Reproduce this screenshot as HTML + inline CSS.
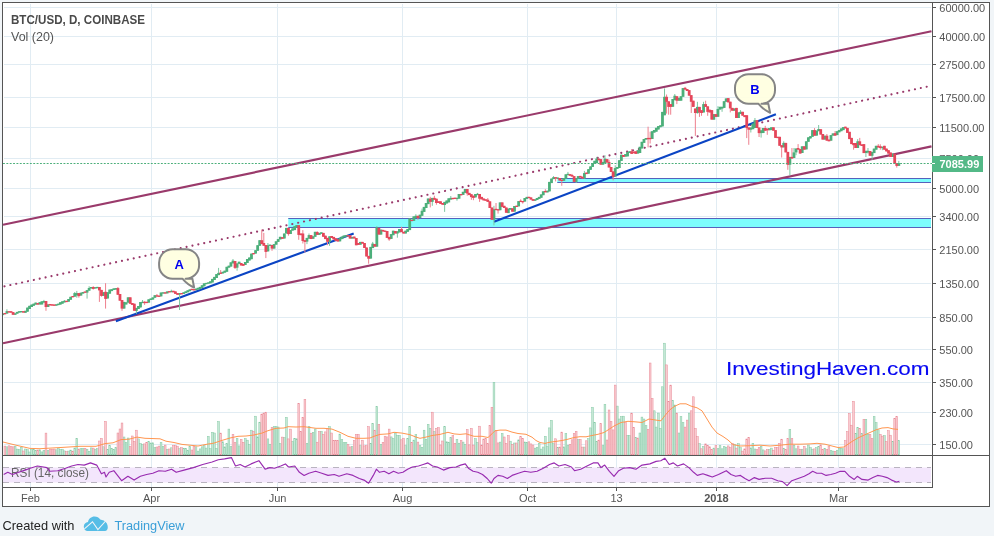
<!DOCTYPE html><html><head><meta charset="utf-8"><title>BTC/USD chart</title><style>html,body{margin:0;padding:0;background:#f1f5f8;width:994px;height:536px;overflow:hidden;font-family:"Liberation Sans",sans-serif}</style></head><body><svg width="994" height="536" viewBox="0 0 994 536" style="position:absolute;left:0;top:0;display:block;will-change:transform" font-family="Liberation Sans, sans-serif"><rect x="0" y="0" width="994" height="536" fill="#f1f5f8"/><rect x="2.5" y="2.5" width="987" height="504" fill="#ffffff" stroke="#555555" stroke-width="1"/><path d="M4 7.5H931M4 36.5H931M4 64.5H931M4 97.5H931M4 127.5H931M4 158.5H931M4 188.5H931M4 216.5H931M4 249.5H931M4 283.5H931M4 317.5H931M4 349.5H931M4 382.5H931M4 412.5H931M4 444.5H931M30.5 4V455M30.5 456V487M151.5 4V455M151.5 456V487M277.5 4V455M277.5 456V487M402.5 4V455M402.5 456V487M527.5 4V455M527.5 456V487M616.5 4V455M616.5 456V487M716.5 4V455M716.5 456V487M838.5 4V455M838.5 456V487" stroke="#e1ecf3" stroke-width="1" fill="none" shape-rendering="crispEdges"/><g fill="#c4e7d5" stroke="#86caa6" stroke-width="0.5"><rect x="6.05" y="446.8" width="1.76" height="8.2"/><rect x="14.27" y="446.4" width="1.76" height="8.6"/><rect x="16.33" y="449.1" width="1.76" height="5.9"/><rect x="18.38" y="449.7" width="1.76" height="5.3"/><rect x="20.44" y="447.2" width="1.76" height="7.8"/><rect x="24.55" y="449.0" width="1.76" height="6.0"/><rect x="26.60" y="449.7" width="1.76" height="5.3"/><rect x="28.66" y="452.0" width="1.76" height="3.0"/><rect x="30.71" y="449.5" width="1.76" height="5.5"/><rect x="32.77" y="449.4" width="1.76" height="5.6"/><rect x="34.82" y="450.3" width="1.76" height="4.7"/><rect x="38.93" y="449.8" width="1.76" height="5.2"/><rect x="40.99" y="451.9" width="1.76" height="3.1"/><rect x="43.04" y="450.5" width="1.76" height="4.5"/><rect x="47.15" y="450.5" width="1.76" height="4.5"/><rect x="55.37" y="449.8" width="1.76" height="5.2"/><rect x="57.43" y="448.6" width="1.76" height="6.4"/><rect x="59.48" y="449.3" width="1.76" height="5.7"/><rect x="61.54" y="449.2" width="1.76" height="5.8"/><rect x="63.59" y="450.9" width="1.76" height="4.1"/><rect x="67.70" y="451.1" width="1.76" height="3.9"/><rect x="69.76" y="450.1" width="1.76" height="4.9"/><rect x="73.87" y="448.0" width="1.76" height="7.0"/><rect x="75.92" y="438.3" width="1.76" height="16.7"/><rect x="80.03" y="448.6" width="1.76" height="6.4"/><rect x="82.09" y="448.6" width="1.76" height="6.4"/><rect x="86.20" y="449.2" width="1.76" height="5.8"/><rect x="88.25" y="451.3" width="1.76" height="3.7"/><rect x="90.31" y="447.9" width="1.76" height="7.1"/><rect x="94.42" y="449.2" width="1.76" height="5.8"/><rect x="96.47" y="448.7" width="1.76" height="6.3"/><rect x="102.64" y="446.8" width="1.76" height="8.2"/><rect x="106.75" y="449.7" width="1.76" height="5.3"/><rect x="108.80" y="445.6" width="1.76" height="9.4"/><rect x="110.86" y="448.4" width="1.76" height="6.6"/><rect x="112.91" y="449.3" width="1.76" height="5.7"/><rect x="114.97" y="447.6" width="1.76" height="7.4"/><rect x="123.19" y="437.0" width="1.76" height="18.0"/><rect x="125.24" y="442.7" width="1.76" height="12.3"/><rect x="127.30" y="438.0" width="1.76" height="17.0"/><rect x="137.57" y="438.9" width="1.76" height="16.1"/><rect x="139.63" y="443.4" width="1.76" height="11.6"/><rect x="141.68" y="444.6" width="1.76" height="10.4"/><rect x="147.85" y="441.7" width="1.76" height="13.3"/><rect x="149.90" y="443.0" width="1.76" height="12.0"/><rect x="151.96" y="442.8" width="1.76" height="12.2"/><rect x="154.01" y="447.5" width="1.76" height="7.5"/><rect x="160.18" y="442.5" width="1.76" height="12.5"/><rect x="162.23" y="446.4" width="1.76" height="8.6"/><rect x="166.34" y="449.2" width="1.76" height="5.8"/><rect x="170.45" y="447.8" width="1.76" height="7.2"/><rect x="178.67" y="448.7" width="1.76" height="6.3"/><rect x="182.78" y="448.2" width="1.76" height="6.8"/><rect x="184.84" y="448.3" width="1.76" height="6.7"/><rect x="186.89" y="450.2" width="1.76" height="4.8"/><rect x="188.95" y="446.5" width="1.76" height="8.5"/><rect x="195.11" y="446.8" width="1.76" height="8.2"/><rect x="197.17" y="451.1" width="1.76" height="3.9"/><rect x="199.22" y="448.9" width="1.76" height="6.1"/><rect x="201.28" y="446.8" width="1.76" height="8.2"/><rect x="203.33" y="445.7" width="1.76" height="9.3"/><rect x="205.39" y="448.1" width="1.76" height="6.9"/><rect x="207.44" y="436.3" width="1.76" height="18.7"/><rect x="209.50" y="448.7" width="1.76" height="6.3"/><rect x="211.55" y="432.3" width="1.76" height="22.7"/><rect x="213.61" y="433.0" width="1.76" height="22.0"/><rect x="215.66" y="448.3" width="1.76" height="6.7"/><rect x="217.72" y="421.5" width="1.76" height="33.5"/><rect x="221.83" y="441.8" width="1.76" height="13.2"/><rect x="223.88" y="446.9" width="1.76" height="8.1"/><rect x="225.94" y="443.6" width="1.76" height="11.4"/><rect x="227.99" y="429.1" width="1.76" height="25.9"/><rect x="230.05" y="446.6" width="1.76" height="8.4"/><rect x="236.21" y="438.4" width="1.76" height="16.6"/><rect x="238.27" y="445.9" width="1.76" height="9.1"/><rect x="244.43" y="438.6" width="1.76" height="16.4"/><rect x="246.49" y="440.2" width="1.76" height="14.8"/><rect x="248.54" y="444.6" width="1.76" height="10.4"/><rect x="250.60" y="430.2" width="1.76" height="24.8"/><rect x="254.71" y="416.2" width="1.76" height="38.8"/><rect x="256.76" y="436.9" width="1.76" height="18.1"/><rect x="258.82" y="422.2" width="1.76" height="32.8"/><rect x="267.04" y="438.9" width="1.76" height="16.1"/><rect x="269.09" y="444.2" width="1.76" height="10.8"/><rect x="273.20" y="426.7" width="1.76" height="28.3"/><rect x="275.26" y="426.7" width="1.76" height="28.3"/><rect x="277.31" y="427.0" width="1.76" height="28.0"/><rect x="279.37" y="443.7" width="1.76" height="11.3"/><rect x="283.48" y="437.5" width="1.76" height="17.5"/><rect x="285.53" y="417.3" width="1.76" height="37.7"/><rect x="291.70" y="441.2" width="1.76" height="13.8"/><rect x="293.75" y="438.4" width="1.76" height="16.6"/><rect x="295.81" y="438.8" width="1.76" height="16.2"/><rect x="306.08" y="443.3" width="1.76" height="11.7"/><rect x="308.14" y="426.7" width="1.76" height="28.3"/><rect x="312.25" y="432.3" width="1.76" height="22.7"/><rect x="314.30" y="429.0" width="1.76" height="26.0"/><rect x="320.47" y="431.4" width="1.76" height="23.6"/><rect x="328.69" y="426.7" width="1.76" height="28.3"/><rect x="338.96" y="434.1" width="1.76" height="20.9"/><rect x="341.02" y="439.5" width="1.76" height="15.5"/><rect x="343.07" y="442.6" width="1.76" height="12.4"/><rect x="345.13" y="442.5" width="1.76" height="12.5"/><rect x="351.29" y="446.7" width="1.76" height="8.3"/><rect x="359.51" y="445.6" width="1.76" height="9.4"/><rect x="369.79" y="443.3" width="1.76" height="11.7"/><rect x="371.84" y="423.5" width="1.76" height="31.5"/><rect x="375.95" y="406.6" width="1.76" height="48.4"/><rect x="380.06" y="444.4" width="1.76" height="10.6"/><rect x="390.34" y="436.9" width="1.76" height="18.1"/><rect x="392.39" y="438.4" width="1.76" height="16.6"/><rect x="394.45" y="433.0" width="1.76" height="22.0"/><rect x="396.50" y="435.4" width="1.76" height="19.6"/><rect x="398.56" y="435.3" width="1.76" height="19.7"/><rect x="404.72" y="445.6" width="1.76" height="9.4"/><rect x="406.78" y="438.7" width="1.76" height="16.3"/><rect x="408.83" y="426.7" width="1.76" height="28.3"/><rect x="412.94" y="440.1" width="1.76" height="14.9"/><rect x="415.00" y="434.7" width="1.76" height="20.3"/><rect x="419.11" y="445.6" width="1.76" height="9.4"/><rect x="421.16" y="447.4" width="1.76" height="7.6"/><rect x="423.22" y="430.2" width="1.76" height="24.8"/><rect x="425.27" y="439.2" width="1.76" height="15.8"/><rect x="427.33" y="424.3" width="1.76" height="30.7"/><rect x="429.38" y="428.3" width="1.76" height="26.7"/><rect x="433.49" y="431.5" width="1.76" height="23.5"/><rect x="443.77" y="426.7" width="1.76" height="28.3"/><rect x="445.82" y="441.8" width="1.76" height="13.2"/><rect x="447.88" y="442.2" width="1.76" height="12.8"/><rect x="449.93" y="437.7" width="1.76" height="17.3"/><rect x="456.10" y="439.4" width="1.76" height="15.6"/><rect x="458.15" y="443.2" width="1.76" height="11.8"/><rect x="462.26" y="442.1" width="1.76" height="12.9"/><rect x="464.32" y="444.4" width="1.76" height="10.6"/><rect x="474.59" y="438.7" width="1.76" height="16.3"/><rect x="476.65" y="442.5" width="1.76" height="12.5"/><rect x="493.09" y="382.3" width="1.76" height="72.7"/><rect x="499.25" y="442.1" width="1.76" height="12.9"/><rect x="501.31" y="433.5" width="1.76" height="21.5"/><rect x="509.53" y="441.2" width="1.76" height="13.8"/><rect x="513.64" y="443.0" width="1.76" height="12.0"/><rect x="517.75" y="439.9" width="1.76" height="15.1"/><rect x="523.91" y="442.0" width="1.76" height="13.0"/><rect x="525.97" y="442.3" width="1.76" height="12.7"/><rect x="534.19" y="448.1" width="1.76" height="6.9"/><rect x="536.24" y="447.2" width="1.76" height="7.8"/><rect x="538.30" y="443.3" width="1.76" height="11.7"/><rect x="540.35" y="449.1" width="1.76" height="5.9"/><rect x="542.41" y="447.0" width="1.76" height="8.0"/><rect x="544.46" y="436.3" width="1.76" height="18.7"/><rect x="546.52" y="446.1" width="1.76" height="8.9"/><rect x="548.57" y="427.9" width="1.76" height="27.1"/><rect x="550.63" y="420.4" width="1.76" height="34.6"/><rect x="552.68" y="443.7" width="1.76" height="11.3"/><rect x="556.79" y="447.7" width="1.76" height="7.3"/><rect x="562.96" y="446.9" width="1.76" height="8.1"/><rect x="565.01" y="433.5" width="1.76" height="21.5"/><rect x="567.07" y="445.2" width="1.76" height="9.8"/><rect x="577.34" y="439.7" width="1.76" height="15.3"/><rect x="583.51" y="447.1" width="1.76" height="7.9"/><rect x="587.62" y="438.7" width="1.76" height="16.3"/><rect x="589.67" y="427.9" width="1.76" height="27.1"/><rect x="591.73" y="407.3" width="1.76" height="47.7"/><rect x="593.78" y="422.4" width="1.76" height="32.6"/><rect x="595.84" y="441.6" width="1.76" height="13.4"/><rect x="602.00" y="445.7" width="1.76" height="9.3"/><rect x="604.06" y="404.4" width="1.76" height="50.6"/><rect x="616.39" y="406.1" width="1.76" height="48.9"/><rect x="618.44" y="419.0" width="1.76" height="36.0"/><rect x="620.50" y="416.6" width="1.76" height="38.4"/><rect x="622.55" y="416.2" width="1.76" height="38.8"/><rect x="626.66" y="435.3" width="1.76" height="19.7"/><rect x="628.72" y="435.3" width="1.76" height="19.7"/><rect x="634.88" y="437.6" width="1.76" height="17.4"/><rect x="638.99" y="433.0" width="1.76" height="22.0"/><rect x="641.05" y="417.1" width="1.76" height="37.9"/><rect x="643.10" y="419.0" width="1.76" height="36.0"/><rect x="645.16" y="425.7" width="1.76" height="29.3"/><rect x="653.38" y="410.8" width="1.76" height="44.2"/><rect x="655.43" y="427.1" width="1.76" height="27.9"/><rect x="657.49" y="413.1" width="1.76" height="41.9"/><rect x="659.54" y="428.3" width="1.76" height="26.7"/><rect x="661.60" y="386.8" width="1.76" height="68.2"/><rect x="663.65" y="343.2" width="1.76" height="111.8"/><rect x="671.87" y="400.3" width="1.76" height="54.7"/><rect x="673.93" y="405.0" width="1.76" height="50.0"/><rect x="678.04" y="433.0" width="1.76" height="22.0"/><rect x="680.09" y="416.6" width="1.76" height="38.4"/><rect x="682.15" y="422.5" width="1.76" height="32.5"/><rect x="688.31" y="413.1" width="1.76" height="41.9"/><rect x="698.59" y="443.5" width="1.76" height="11.5"/><rect x="702.70" y="446.4" width="1.76" height="8.6"/><rect x="712.97" y="448.1" width="1.76" height="6.9"/><rect x="717.08" y="448.7" width="1.76" height="6.3"/><rect x="719.14" y="445.7" width="1.76" height="9.3"/><rect x="721.19" y="448.8" width="1.76" height="6.2"/><rect x="723.25" y="446.4" width="1.76" height="8.6"/><rect x="725.30" y="447.2" width="1.76" height="7.8"/><rect x="733.52" y="444.2" width="1.76" height="10.8"/><rect x="737.63" y="443.7" width="1.76" height="11.3"/><rect x="739.69" y="447.7" width="1.76" height="7.3"/><rect x="749.96" y="447.9" width="1.76" height="7.1"/><rect x="752.02" y="443.3" width="1.76" height="11.7"/><rect x="754.07" y="449.0" width="1.76" height="6.0"/><rect x="760.24" y="446.4" width="1.76" height="8.6"/><rect x="762.29" y="449.9" width="1.76" height="5.1"/><rect x="768.46" y="449.3" width="1.76" height="5.7"/><rect x="770.51" y="448.1" width="1.76" height="6.9"/><rect x="782.84" y="448.2" width="1.76" height="6.8"/><rect x="789.01" y="429.4" width="1.76" height="25.6"/><rect x="793.12" y="445.2" width="1.76" height="9.8"/><rect x="795.17" y="448.8" width="1.76" height="6.2"/><rect x="801.34" y="449.2" width="1.76" height="5.8"/><rect x="805.45" y="448.8" width="1.76" height="6.2"/><rect x="807.50" y="445.1" width="1.76" height="9.9"/><rect x="809.56" y="447.6" width="1.76" height="7.4"/><rect x="811.61" y="449.2" width="1.76" height="5.8"/><rect x="815.72" y="447.7" width="1.76" height="7.3"/><rect x="817.78" y="446.3" width="1.76" height="8.7"/><rect x="823.94" y="448.3" width="1.76" height="6.7"/><rect x="830.11" y="450.5" width="1.76" height="4.5"/><rect x="832.16" y="451.1" width="1.76" height="3.9"/><rect x="836.27" y="450.2" width="1.76" height="4.8"/><rect x="838.33" y="448.4" width="1.76" height="6.6"/><rect x="840.38" y="448.3" width="1.76" height="6.7"/><rect x="842.44" y="448.8" width="1.76" height="6.2"/><rect x="854.77" y="433.4" width="1.76" height="21.6"/><rect x="856.82" y="427.6" width="1.76" height="27.4"/><rect x="860.93" y="433.4" width="1.76" height="21.6"/><rect x="865.04" y="419.3" width="1.76" height="35.7"/><rect x="867.10" y="434.3" width="1.76" height="20.7"/><rect x="873.26" y="416.5" width="1.76" height="38.5"/><rect x="875.32" y="422.5" width="1.76" height="32.5"/><rect x="877.37" y="429.8" width="1.76" height="25.2"/><rect x="883.54" y="435.6" width="1.76" height="19.4"/><rect x="891.76" y="441.5" width="1.76" height="13.5"/><rect x="897.92" y="440.6" width="1.76" height="14.4"/></g><g fill="#f9cbd0" stroke="#e98b97" stroke-width="0.5"><rect x="4.00" y="446.1" width="1.76" height="8.9"/><rect x="8.11" y="445.8" width="1.76" height="9.2"/><rect x="10.16" y="446.7" width="1.76" height="8.3"/><rect x="12.22" y="446.8" width="1.76" height="8.2"/><rect x="22.49" y="451.0" width="1.76" height="4.0"/><rect x="36.88" y="450.0" width="1.76" height="5.0"/><rect x="45.10" y="433.1" width="1.76" height="21.9"/><rect x="49.21" y="449.2" width="1.76" height="5.8"/><rect x="51.26" y="449.2" width="1.76" height="5.8"/><rect x="53.32" y="449.1" width="1.76" height="5.9"/><rect x="65.65" y="451.6" width="1.76" height="3.4"/><rect x="71.81" y="451.1" width="1.76" height="3.9"/><rect x="77.98" y="449.0" width="1.76" height="6.0"/><rect x="84.14" y="448.4" width="1.76" height="6.6"/><rect x="92.36" y="448.1" width="1.76" height="6.9"/><rect x="98.53" y="441.0" width="1.76" height="14.0"/><rect x="100.58" y="438.3" width="1.76" height="16.7"/><rect x="104.69" y="421.4" width="1.76" height="33.6"/><rect x="117.02" y="433.0" width="1.76" height="22.0"/><rect x="119.08" y="429.0" width="1.76" height="26.0"/><rect x="121.13" y="423.0" width="1.76" height="32.0"/><rect x="129.35" y="446.6" width="1.76" height="8.4"/><rect x="131.41" y="436.0" width="1.76" height="19.0"/><rect x="133.46" y="441.4" width="1.76" height="13.6"/><rect x="135.52" y="430.2" width="1.76" height="24.8"/><rect x="143.74" y="443.9" width="1.76" height="11.1"/><rect x="145.79" y="442.3" width="1.76" height="12.7"/><rect x="156.07" y="447.0" width="1.76" height="8.0"/><rect x="158.12" y="446.1" width="1.76" height="8.9"/><rect x="164.29" y="445.1" width="1.76" height="9.9"/><rect x="168.40" y="449.0" width="1.76" height="6.0"/><rect x="172.51" y="445.5" width="1.76" height="9.5"/><rect x="174.56" y="445.7" width="1.76" height="9.3"/><rect x="176.62" y="446.2" width="1.76" height="8.8"/><rect x="180.73" y="447.7" width="1.76" height="7.3"/><rect x="191.00" y="450.0" width="1.76" height="5.0"/><rect x="193.06" y="446.4" width="1.76" height="8.6"/><rect x="219.77" y="433.1" width="1.76" height="21.9"/><rect x="232.10" y="434.4" width="1.76" height="20.6"/><rect x="234.16" y="442.7" width="1.76" height="12.3"/><rect x="240.32" y="439.4" width="1.76" height="15.6"/><rect x="242.38" y="442.3" width="1.76" height="12.7"/><rect x="252.65" y="431.2" width="1.76" height="23.8"/><rect x="260.87" y="414.1" width="1.76" height="40.9"/><rect x="262.93" y="413.0" width="1.76" height="42.0"/><rect x="264.98" y="412.2" width="1.76" height="42.8"/><rect x="271.15" y="427.5" width="1.76" height="27.5"/><rect x="281.42" y="437.1" width="1.76" height="17.9"/><rect x="287.59" y="438.9" width="1.76" height="16.1"/><rect x="289.64" y="429.1" width="1.76" height="25.9"/><rect x="297.86" y="403.3" width="1.76" height="51.7"/><rect x="299.92" y="431.3" width="1.76" height="23.7"/><rect x="301.97" y="417.3" width="1.76" height="37.7"/><rect x="304.03" y="399.3" width="1.76" height="55.7"/><rect x="310.19" y="433.2" width="1.76" height="21.8"/><rect x="316.36" y="442.2" width="1.76" height="12.8"/><rect x="318.41" y="431.5" width="1.76" height="23.5"/><rect x="322.52" y="434.3" width="1.76" height="20.7"/><rect x="324.58" y="431.9" width="1.76" height="23.1"/><rect x="326.63" y="428.3" width="1.76" height="26.7"/><rect x="330.74" y="433.0" width="1.76" height="22.0"/><rect x="332.80" y="440.7" width="1.76" height="14.3"/><rect x="334.85" y="440.2" width="1.76" height="14.8"/><rect x="336.91" y="440.5" width="1.76" height="14.5"/><rect x="347.18" y="444.6" width="1.76" height="10.4"/><rect x="349.24" y="446.9" width="1.76" height="8.1"/><rect x="353.35" y="440.6" width="1.76" height="14.4"/><rect x="355.40" y="434.4" width="1.76" height="20.6"/><rect x="357.46" y="434.4" width="1.76" height="20.6"/><rect x="361.57" y="440.2" width="1.76" height="14.8"/><rect x="363.62" y="445.9" width="1.76" height="9.1"/><rect x="365.68" y="445.7" width="1.76" height="9.3"/><rect x="367.73" y="426.7" width="1.76" height="28.3"/><rect x="373.90" y="430.2" width="1.76" height="24.8"/><rect x="378.01" y="424.3" width="1.76" height="30.7"/><rect x="382.12" y="442.4" width="1.76" height="12.6"/><rect x="384.17" y="436.2" width="1.76" height="18.8"/><rect x="386.23" y="436.9" width="1.76" height="18.1"/><rect x="388.28" y="429.1" width="1.76" height="25.9"/><rect x="400.61" y="439.8" width="1.76" height="15.2"/><rect x="402.67" y="438.2" width="1.76" height="16.8"/><rect x="410.89" y="442.4" width="1.76" height="12.6"/><rect x="417.05" y="442.1" width="1.76" height="12.9"/><rect x="431.44" y="412.2" width="1.76" height="42.8"/><rect x="435.55" y="428.3" width="1.76" height="26.7"/><rect x="437.60" y="427.5" width="1.76" height="27.5"/><rect x="439.66" y="445.0" width="1.76" height="10.0"/><rect x="441.71" y="441.0" width="1.76" height="14.0"/><rect x="451.99" y="435.6" width="1.76" height="19.4"/><rect x="454.04" y="443.4" width="1.76" height="11.6"/><rect x="460.21" y="440.5" width="1.76" height="14.5"/><rect x="466.37" y="429.6" width="1.76" height="25.4"/><rect x="468.43" y="444.9" width="1.76" height="10.1"/><rect x="470.48" y="428.4" width="1.76" height="26.6"/><rect x="472.54" y="445.1" width="1.76" height="9.9"/><rect x="478.70" y="426.2" width="1.76" height="28.8"/><rect x="480.76" y="445.1" width="1.76" height="9.9"/><rect x="482.81" y="439.0" width="1.76" height="16.0"/><rect x="484.87" y="438.5" width="1.76" height="16.5"/><rect x="486.92" y="443.7" width="1.76" height="11.3"/><rect x="488.98" y="425.4" width="1.76" height="29.6"/><rect x="491.03" y="407.3" width="1.76" height="47.7"/><rect x="495.14" y="430.4" width="1.76" height="24.6"/><rect x="497.20" y="442.9" width="1.76" height="12.1"/><rect x="503.36" y="437.0" width="1.76" height="18.0"/><rect x="505.42" y="443.5" width="1.76" height="11.5"/><rect x="507.47" y="435.5" width="1.76" height="19.5"/><rect x="511.58" y="444.4" width="1.76" height="10.6"/><rect x="515.69" y="443.0" width="1.76" height="12.0"/><rect x="519.80" y="436.7" width="1.76" height="18.3"/><rect x="521.86" y="438.3" width="1.76" height="16.7"/><rect x="528.02" y="441.8" width="1.76" height="13.2"/><rect x="530.08" y="443.9" width="1.76" height="11.1"/><rect x="532.13" y="445.0" width="1.76" height="10.0"/><rect x="554.74" y="438.8" width="1.76" height="16.2"/><rect x="558.85" y="447.1" width="1.76" height="7.9"/><rect x="560.90" y="432.1" width="1.76" height="22.9"/><rect x="569.12" y="444.5" width="1.76" height="10.5"/><rect x="571.18" y="439.8" width="1.76" height="15.2"/><rect x="573.23" y="433.5" width="1.76" height="21.5"/><rect x="575.29" y="431.3" width="1.76" height="23.7"/><rect x="579.40" y="439.3" width="1.76" height="15.7"/><rect x="581.45" y="447.1" width="1.76" height="7.9"/><rect x="585.56" y="440.8" width="1.76" height="14.2"/><rect x="597.89" y="440.1" width="1.76" height="14.9"/><rect x="599.95" y="423.6" width="1.76" height="31.4"/><rect x="606.11" y="440.0" width="1.76" height="15.0"/><rect x="608.17" y="410.0" width="1.76" height="45.0"/><rect x="610.22" y="421.3" width="1.76" height="33.7"/><rect x="612.28" y="429.9" width="1.76" height="25.1"/><rect x="614.33" y="385.1" width="1.76" height="69.9"/><rect x="624.61" y="422.5" width="1.76" height="32.5"/><rect x="630.77" y="413.1" width="1.76" height="41.9"/><rect x="632.83" y="427.3" width="1.76" height="27.7"/><rect x="636.94" y="438.0" width="1.76" height="17.0"/><rect x="647.21" y="429.5" width="1.76" height="25.5"/><rect x="649.27" y="363.0" width="1.76" height="92.0"/><rect x="651.32" y="398.4" width="1.76" height="56.6"/><rect x="665.71" y="364.9" width="1.76" height="90.1"/><rect x="667.76" y="401.5" width="1.76" height="53.5"/><rect x="669.82" y="385.1" width="1.76" height="69.9"/><rect x="675.98" y="413.1" width="1.76" height="41.9"/><rect x="684.20" y="427.1" width="1.76" height="27.9"/><rect x="686.26" y="420.1" width="1.76" height="34.9"/><rect x="690.37" y="410.8" width="1.76" height="44.2"/><rect x="692.42" y="396.8" width="1.76" height="58.2"/><rect x="694.48" y="428.3" width="1.76" height="26.7"/><rect x="696.53" y="436.5" width="1.76" height="18.5"/><rect x="700.64" y="448.8" width="1.76" height="6.2"/><rect x="704.75" y="443.9" width="1.76" height="11.1"/><rect x="706.81" y="445.6" width="1.76" height="9.4"/><rect x="708.86" y="446.8" width="1.76" height="8.2"/><rect x="710.92" y="449.3" width="1.76" height="5.7"/><rect x="715.03" y="445.6" width="1.76" height="9.4"/><rect x="727.36" y="445.9" width="1.76" height="9.1"/><rect x="729.41" y="447.7" width="1.76" height="7.3"/><rect x="731.47" y="443.7" width="1.76" height="11.3"/><rect x="735.58" y="448.1" width="1.76" height="6.9"/><rect x="741.74" y="451.1" width="1.76" height="3.9"/><rect x="743.80" y="448.9" width="1.76" height="6.1"/><rect x="745.85" y="439.0" width="1.76" height="16.0"/><rect x="747.91" y="437.3" width="1.76" height="17.7"/><rect x="756.13" y="449.7" width="1.76" height="5.3"/><rect x="758.18" y="447.6" width="1.76" height="7.4"/><rect x="764.35" y="450.9" width="1.76" height="4.1"/><rect x="766.40" y="449.6" width="1.76" height="5.4"/><rect x="772.57" y="450.2" width="1.76" height="4.8"/><rect x="774.62" y="447.3" width="1.76" height="7.7"/><rect x="776.68" y="447.4" width="1.76" height="7.6"/><rect x="778.73" y="443.3" width="1.76" height="11.7"/><rect x="780.79" y="439.2" width="1.76" height="15.8"/><rect x="784.90" y="449.6" width="1.76" height="5.4"/><rect x="786.95" y="438.5" width="1.76" height="16.5"/><rect x="791.06" y="438.5" width="1.76" height="16.5"/><rect x="797.23" y="446.0" width="1.76" height="9.0"/><rect x="799.28" y="449.2" width="1.76" height="5.8"/><rect x="803.39" y="446.3" width="1.76" height="8.7"/><rect x="813.67" y="448.9" width="1.76" height="6.1"/><rect x="819.83" y="444.9" width="1.76" height="10.1"/><rect x="821.89" y="449.5" width="1.76" height="5.5"/><rect x="826.00" y="449.6" width="1.76" height="5.4"/><rect x="828.05" y="446.1" width="1.76" height="8.9"/><rect x="834.22" y="451.3" width="1.76" height="3.7"/><rect x="844.49" y="440.6" width="1.76" height="14.4"/><rect x="846.55" y="431.6" width="1.76" height="23.4"/><rect x="848.60" y="413.5" width="1.76" height="41.5"/><rect x="850.66" y="425.2" width="1.76" height="29.8"/><rect x="852.71" y="401.3" width="1.76" height="53.7"/><rect x="858.88" y="428.3" width="1.76" height="26.7"/><rect x="862.99" y="419.3" width="1.76" height="35.7"/><rect x="869.15" y="434.3" width="1.76" height="20.7"/><rect x="871.21" y="438.5" width="1.76" height="16.5"/><rect x="879.43" y="434.3" width="1.76" height="20.7"/><rect x="881.48" y="436.1" width="1.76" height="18.9"/><rect x="885.59" y="441.5" width="1.76" height="13.5"/><rect x="887.65" y="430.7" width="1.76" height="24.3"/><rect x="889.70" y="435.2" width="1.76" height="19.8"/><rect x="893.81" y="418.5" width="1.76" height="36.5"/><rect x="895.87" y="416.5" width="1.76" height="38.5"/></g><polyline fill="none" stroke="#ff9650" stroke-width="1" stroke-linejoin="round" points="3.0,442.0 16.0,445.2 30.0,448.4 40.0,448.7 64.0,447.3 80.0,446.3 96.0,446.3 105.0,443.6 113.0,442.8 121.0,439.6 129.0,439.2 137.0,437.1 145.0,438.3 160.0,438.8 166.0,441.2 174.0,442.5 182.0,444.4 190.0,445.2 198.0,446.0 206.0,444.4 214.0,443.1 222.0,440.4 230.0,438.0 238.0,436.3 246.0,436.0 254.0,435.0 262.0,433.1 268.0,430.7 276.0,428.3 284.0,428.0 288.0,426.7 296.0,427.0 304.0,426.7 310.0,427.5 316.0,428.3 324.0,428.3 332.0,429.1 340.0,432.3 348.0,436.3 356.0,438.3 364.0,438.3 370.0,438.0 374.0,436.3 380.0,434.4 388.0,433.9 394.0,432.3 402.0,433.1 410.0,434.7 416.0,437.1 420.0,438.3 426.0,437.1 432.0,435.5 440.0,434.4 448.0,432.3 454.0,433.9 460.0,434.4 466.0,433.8 474.0,436.3 482.0,436.3 488.0,437.5 492.0,433.8 495.0,430.8 500.0,430.1 506.0,430.1 512.0,432.1 518.0,433.5 526.0,434.3 532.0,437.2 536.0,440.5 540.0,442.5 545.0,443.4 550.0,442.2 556.0,441.4 562.0,440.5 568.0,439.2 574.0,437.5 580.0,436.7 586.0,436.8 592.0,435.5 598.0,434.3 604.0,432.5 607.0,430.6 614.0,426.0 621.0,422.5 628.0,421.3 635.0,421.8 642.0,422.5 649.0,419.0 656.0,420.1 661.0,420.8 665.0,415.5 670.0,409.6 675.0,406.1 680.0,403.8 686.0,403.8 691.0,406.1 697.0,407.8 702.0,410.8 707.0,419.0 712.0,427.1 717.0,433.0 723.0,436.5 728.0,440.0 733.0,444.6 740.0,446.0 750.0,445.7 760.0,445.2 770.0,446.0 780.0,445.2 790.0,444.2 800.0,444.2 810.0,443.9 817.0,443.3 825.0,444.2 832.0,446.0 838.0,447.5 844.0,447.0 848.0,444.2 852.0,441.5 858.0,437.9 864.0,435.2 870.0,432.5 876.0,429.8 882.0,428.0 888.0,427.6 893.0,428.9 898.0,429.4"/><rect x="288.3" y="218" width="643" height="10" fill="#7dfdfd"/><rect x="557.3" y="178" width="374" height="5" fill="#7dfdfd"/><path d="M288.3 218.5H931M288.3 227.5H931M557.3 178.5H931M557.3 182.5H931" stroke="#5661bc" stroke-width="1" fill="none"/><rect x="931" y="170" width="1" height="70" fill="#fff"/><line x1="3" y1="224.8" x2="931.5" y2="31.2" stroke="#9a3a6b" stroke-width="2.15"/><line x1="3" y1="343.3" x2="931.5" y2="146.4" stroke="#9a3a6b" stroke-width="2.15"/><line x1="4.5" y1="286.3" x2="931.5" y2="85.7" stroke="#9a3a6b" stroke-width="2.15" stroke-dasharray="0.01 6" stroke-linecap="round"/><line x1="115.9" y1="321.2" x2="353.7" y2="233.4" stroke="#0b44c4" stroke-width="2.15"/><line x1="494" y1="221.8" x2="775.9" y2="114.3" stroke="#0b44c4" stroke-width="2.15"/><clipPath id="mp"><rect x="3" y="3" width="929" height="452"/></clipPath><g clip-path="url(#mp)"><path d="M2.82 313.5V315.1M6.93 309.2V313.7M15.15 313.3V314.9M17.20 311.9V313.7M19.26 311.2V312.6M21.31 311.0V312.3M25.42 310.8V312.8M27.48 307.6V311.7M29.53 305.8V309.0M31.59 304.6V307.0M33.64 303.7V305.8M35.70 302.6V304.6M39.81 302.2V304.4M41.86 301.3V304.4M43.92 299.9V302.6M48.03 304.3V307.0M56.25 304.3V305.7M58.30 303.7V305.2M60.36 302.2V304.6M62.41 301.3V303.7M64.47 300.1V302.5M68.58 299.0V301.7M70.63 296.8V299.7M74.74 292.0V296.8M76.80 290.9V297.7M80.91 292.7V295.6M82.96 292.0V293.6M87.07 290.1V298.6M89.13 286.2V290.7M91.18 287.0V288.4M95.29 287.2V288.5M97.35 286.9V288.2M103.51 292.2V295.9M107.62 292.2V298.5M109.68 289.6V293.7M111.73 289.2V291.1M113.79 288.4V289.9M115.84 288.1V289.6M124.06 301.9V308.6M126.12 302.3V304.5M128.17 297.3V302.6M136.39 307.9V313.8M138.45 306.0V309.0M140.50 302.0V307.5M142.56 300.0V303.1M148.72 299.3V302.6M150.78 298.5V300.0M152.83 297.4V299.6M154.89 295.2V297.8M161.05 292.5V296.4M163.11 292.3V293.6M167.22 291.4V293.4M171.33 289.7V292.2M179.55 293.1V310.0M183.66 292.3V293.9M185.71 291.4V293.1M187.77 290.3V292.3M189.82 289.4V291.2M195.99 288.6V290.1M198.04 287.8V289.7M200.10 286.9V289.2M202.15 285.2V288.0M204.21 283.3V286.4M206.26 282.9V284.2M208.32 282.4V283.7M210.37 281.3V283.3M212.43 278.9V282.4M214.48 276.9V280.0M216.54 274.1V278.0M218.59 267.9V275.2M222.70 271.8V273.5M224.76 270.7V272.7M226.81 266.8V271.8M228.87 265.7V267.7M230.92 262.3V266.6M232.98 259.0V263.4M237.09 263.4V270.7M239.14 261.7V264.0M245.31 262.0V265.0M247.36 259.0V263.0M249.42 257.5V260.5M251.47 253.6V259.2M255.58 250.2V253.6M257.64 245.2V250.8M259.69 240.2V245.8M267.91 243.0V251.4M269.97 244.6V245.9M274.08 244.1V248.6M276.13 241.3V244.7M278.19 239.1V241.9M280.24 236.8V239.4M284.35 233.5V238.5M286.41 227.9V233.5M290.52 230.1V234.0M292.57 228.4V230.7M294.63 226.2V230.1M296.68 225.1V227.3M306.96 237.9V244.1M309.01 233.5V238.7M313.12 236.3V238.7M315.18 231.8V236.8M319.29 232.9V234.9M321.34 232.3V233.8M329.56 236.3V245.8M339.84 238.0V241.3M341.89 236.6V239.1M343.95 235.5V237.4M346.00 235.2V236.6M352.17 236.9V238.5M360.39 241.9V244.7M370.66 246.9V258.7M372.72 241.9V248.0M376.83 226.2V246.7M380.94 229.6V234.6M391.21 234.1V238.9M393.27 230.7V235.2M397.38 231.3V237.7M399.43 229.0V232.4M405.60 230.7V233.5M407.65 229.0V231.8M409.71 218.4V230.1M413.82 216.4V220.9M415.87 214.2V218.1M419.98 214.7V218.1M422.04 208.6V215.8M424.09 206.9V211.9M426.15 203.0V208.0M428.20 198.5V204.1M432.31 197.9V205.8M444.64 201.9V211.9M446.70 200.5V203.5M448.75 198.3V202.4M450.81 196.0V199.6M456.97 197.8V200.7M459.03 194.0V198.7M463.14 191.8V194.9M465.19 189.0V192.9M475.47 194.0V197.4M477.52 192.9V195.1M493.96 205.8V225.4M500.13 202.4V210.3M508.35 208.6V213.1M510.40 208.0V209.7M514.51 206.0V211.6M518.62 201.1V206.4M524.79 198.0V201.6M526.84 196.9V198.9M535.06 199.3V200.8M537.12 198.0V200.0M539.17 196.9V198.9M541.23 194.4V197.7M543.28 191.3V195.2M547.39 190.7V192.4M549.45 181.9V191.4M551.50 178.6V183.0M553.56 176.1V179.1M557.67 177.5V178.8M563.83 178.0V180.8M565.89 174.3V178.6M567.94 171.9V175.1M576.16 178.0V183.0M578.22 176.1V178.6M584.38 170.9V178.5M588.49 169.2V173.7M590.55 166.4V169.8M592.60 163.0V167.0M594.66 160.8V163.6M596.71 156.9V163.0M602.88 161.9V164.7M604.93 155.2V163.0M615.21 165.3V176.5M617.26 167.0V168.9M619.32 160.2V168.1M621.38 154.7V160.8M625.48 154.1V156.6M627.54 151.9V156.3M629.59 151.3V153.0M637.81 150.2V153.5M639.87 146.8V153.0M641.92 141.8V148.5M643.98 139.0V142.9M646.03 138.0V139.5M652.20 131.2V139.0M654.25 130.0V132.6M656.31 127.8V131.7M658.36 126.1V129.5M660.42 125.3V127.2M662.47 111.9V126.4M664.53 88.4V115.2M672.75 99.0V106.9M674.80 94.0V100.1M678.91 97.9V100.7M680.97 96.2V100.7M683.02 88.1V96.8M697.41 101.8V113.6M703.57 101.8V112.4M713.85 114.1V119.7M717.96 106.2V116.9M720.01 106.8V109.6M722.07 106.8V111.8M724.12 101.2V107.9M726.18 98.4V101.7M734.40 108.5V110.7M738.51 112.4V118.0M740.56 110.1V114.1M750.84 127.5V132.5M752.89 123.6V129.2M754.95 118.0V128.0M761.12 130.3V137.6M763.17 128.0V133.1M769.33 128.0V130.3M771.39 127.3V130.1M783.72 141.3V147.4M789.88 156.9V175.4M793.99 148.0V158.0M796.05 148.5V155.2M802.21 146.3V153.0M806.32 141.3V149.3M808.38 137.3V141.8M810.43 136.2V138.5M812.49 130.1V136.8M816.60 130.6V135.7M818.65 125.0V131.2M824.82 135.7V139.6M830.98 135.1V140.7M833.04 133.4V135.7M837.15 131.2V135.1M839.20 130.1V132.3M841.26 128.4V131.2M843.31 127.1V130.1M857.70 139.1V148.0M865.92 150.8V157.0M867.97 148.0V153.6M872.08 151.9V159.8M874.14 148.6V153.0M876.19 145.8V149.7M882.36 146.7V150.2M892.63 153.6V157.0M898.80 160.9V165.9" stroke="#7cc6a0" stroke-width="1" fill="none"/><path d="M4.87 313.0V314.3M8.98 311.2V312.5M11.04 311.2V312.8M13.09 312.1V314.9M23.37 311.2V312.6M37.75 303.1V304.6M45.97 301.0V310.8M50.08 304.0V305.4M52.14 304.3V305.6M54.19 304.5V305.8M66.52 300.8V302.1M72.69 296.0V297.3M78.85 293.1V297.7M85.02 291.5V292.8M93.24 286.2V289.6M99.40 287.0V301.9M101.46 289.9V296.7M105.57 283.2V308.6M117.90 287.0V294.8M119.95 294.0V300.8M122.01 300.0V310.8M130.23 297.3V303.7M132.28 303.0V304.9M134.34 303.7V310.8M144.61 301.1V304.9M146.67 301.8V303.1M156.94 294.0V296.7M159.00 295.6V296.9M165.16 292.3V293.6M169.27 291.1V292.4M173.38 290.8V292.3M175.44 291.4V293.9M177.49 293.1V294.8M181.60 293.0V294.3M191.88 288.8V290.1M193.93 289.1V290.4M220.65 270.1V273.9M235.03 261.0V269.0M241.20 263.0V265.5M243.25 264.0V265.8M253.53 253.0V254.4M261.75 229.5V244.1M263.80 232.9V245.8M265.86 245.0V258.1M272.02 245.0V250.8M282.30 237.2V238.7M288.46 227.9V235.7M298.74 225.1V239.8M300.79 233.5V235.1M302.85 230.1V243.5M304.90 240.2V252.5M311.07 235.1V239.1M317.23 231.2V234.9M323.40 232.9V236.8M325.45 235.7V239.1M327.51 237.9V245.2M331.62 236.0V238.0M333.67 236.9V239.3M335.73 238.2V240.8M337.78 239.3V241.6M348.06 235.1V236.4M350.11 235.2V238.5M354.22 236.6V238.5M356.28 238.0V245.2M358.33 243.0V244.9M362.44 241.9V243.6M364.50 243.0V248.0M366.55 247.5V256.4M368.61 255.9V263.7M374.77 244.1V246.7M378.88 227.9V234.6M382.99 229.9V231.5M385.05 230.6V231.9M387.10 231.0V238.0M389.16 236.9V240.8M395.32 231.0V233.5M401.49 226.8V232.2M403.54 231.8V233.5M411.76 219.8V221.1M417.93 215.8V219.8M430.26 196.8V207.4M434.37 195.7V199.8M436.42 198.7V204.7M438.48 201.3V203.0M440.53 201.3V203.9M442.59 203.0V204.7M452.86 197.9V199.2M454.92 197.7V199.0M461.08 194.0V195.4M467.25 189.0V195.7M469.30 192.9V195.1M471.36 194.2V199.8M473.41 195.7V200.2M479.58 194.0V201.9M481.63 196.9V199.3M483.69 198.5V200.4M485.74 199.3V200.8M487.80 198.0V201.9M489.85 201.3V208.0M491.91 207.5V219.8M496.02 203.0V210.1M498.07 209.2V213.6M502.18 202.4V206.9M504.24 205.8V208.0M506.29 207.5V212.7M512.46 208.3V211.6M516.57 205.7V207.0M520.68 199.3V202.0M522.73 201.0V203.6M528.90 196.8V198.1M530.95 197.4V199.7M533.01 199.1V200.8M545.34 189.2V192.4M555.62 177.2V181.4M559.72 178.0V180.6M561.78 179.7V185.8M570.00 174.1V175.8M572.05 173.9V176.6M574.11 176.1V181.9M580.27 175.9V177.6M582.33 176.7V178.5M586.44 172.6V174.0M598.77 158.6V160.2M600.82 159.1V164.7M606.99 159.1V162.5M609.04 159.7V167.5M611.10 167.0V172.0M613.15 171.4V180.4M623.43 155.0V156.9M631.65 149.1V153.9M633.70 151.6V153.2M635.76 151.3V153.9M648.09 126.7V147.4M650.14 131.7V143.5M666.58 94.5V113.6M668.64 101.3V114.7M670.69 104.1V114.7M676.86 96.2V104.1M685.08 86.9V89.6M687.13 89.0V91.0M689.19 90.1V95.7M691.24 95.1V113.0M693.30 100.7V106.9M695.35 108.5V135.9M699.46 106.9V116.9M701.52 110.2V115.8M705.63 100.7V106.9M707.68 106.3V115.8M709.74 109.7V112.4M711.79 110.1V119.7M715.90 114.1V116.9M728.23 98.1V102.3M730.29 101.7V112.4M732.34 107.9V110.7M736.45 107.9V118.0M742.62 111.8V115.7M744.67 115.2V117.1M746.73 115.2V138.1M748.78 127.5V144.8M757.00 120.2V128.0M759.06 127.5V137.0M765.22 125.8V130.8M767.28 128.6V134.8M773.44 127.3V130.6M775.50 130.1V137.9M777.55 136.8V138.1M779.61 136.8V145.7M781.66 145.2V157.5M785.77 142.9V152.4M787.83 151.9V169.8M791.94 148.0V158.6M798.10 144.1V149.7M800.16 149.1V153.6M804.27 146.3V149.7M814.54 128.1V135.7M820.71 129.2V134.5M822.76 134.0V139.6M826.88 134.0V140.7M828.93 139.6V141.3M835.09 131.0V135.7M845.37 126.7V128.4M847.42 127.9V132.9M849.48 131.8V139.1M851.53 137.9V144.1M853.59 143.0V149.7M855.64 143.0V148.0M859.75 137.9V145.2M861.81 144.4V146.0M863.87 144.1V153.0M870.03 151.0V155.8M878.25 144.1V147.4M880.30 144.3V149.7M884.41 145.8V149.7M886.47 148.6V151.4M888.52 150.2V153.6M890.58 152.5V157.0M894.69 153.9V163.7M896.75 163.1V167.6" stroke="#ee7f8d" stroke-width="1" fill="none"/><g fill="#4caf7a"><rect x="1.42" y="313.5" width="2.8" height="1.6"/><rect x="5.53" y="311.2" width="2.8" height="2.4"/><rect x="13.75" y="313.3" width="2.8" height="1.5"/><rect x="15.80" y="311.9" width="2.8" height="1.8"/><rect x="17.86" y="311.2" width="2.8" height="1.4"/><rect x="19.91" y="311.0" width="2.8" height="1.3"/><rect x="24.02" y="310.8" width="2.8" height="2.0"/><rect x="26.08" y="307.6" width="2.8" height="4.1"/><rect x="28.13" y="305.8" width="2.8" height="3.2"/><rect x="30.19" y="304.6" width="2.8" height="2.4"/><rect x="32.24" y="303.7" width="2.8" height="2.1"/><rect x="34.30" y="302.6" width="2.8" height="2.0"/><rect x="38.41" y="302.2" width="2.8" height="2.3"/><rect x="40.46" y="301.3" width="2.8" height="3.2"/><rect x="42.52" y="301.0" width="2.8" height="1.6"/><rect x="46.63" y="304.3" width="2.8" height="2.7"/><rect x="54.85" y="304.3" width="2.8" height="1.4"/><rect x="56.90" y="303.7" width="2.8" height="1.4"/><rect x="58.96" y="302.2" width="2.8" height="2.4"/><rect x="61.01" y="301.3" width="2.8" height="2.4"/><rect x="63.07" y="300.8" width="2.8" height="1.6"/><rect x="67.18" y="299.0" width="2.8" height="2.7"/><rect x="69.23" y="296.8" width="2.8" height="3.0"/><rect x="73.34" y="293.1" width="2.8" height="3.6"/><rect x="75.40" y="293.1" width="2.8" height="2.3"/><rect x="79.51" y="292.7" width="2.8" height="2.9"/><rect x="81.56" y="292.0" width="2.8" height="1.6"/><rect x="85.67" y="290.1" width="2.8" height="2.5"/><rect x="87.73" y="288.0" width="2.8" height="2.7"/><rect x="89.78" y="287.0" width="2.8" height="1.5"/><rect x="93.89" y="287.2" width="2.8" height="1.3"/><rect x="95.95" y="286.9" width="2.8" height="1.3"/><rect x="102.11" y="292.2" width="2.8" height="3.7"/><rect x="106.22" y="292.2" width="2.8" height="6.3"/><rect x="108.28" y="289.6" width="2.8" height="4.1"/><rect x="110.33" y="289.2" width="2.8" height="1.9"/><rect x="112.39" y="288.4" width="2.8" height="1.5"/><rect x="114.44" y="288.1" width="2.8" height="1.5"/><rect x="122.66" y="301.9" width="2.8" height="6.7"/><rect x="124.72" y="302.3" width="2.8" height="2.2"/><rect x="126.77" y="297.3" width="2.8" height="5.4"/><rect x="134.99" y="307.9" width="2.8" height="3.0"/><rect x="137.05" y="306.0" width="2.8" height="3.0"/><rect x="139.10" y="302.0" width="2.8" height="5.4"/><rect x="141.16" y="301.8" width="2.8" height="1.3"/><rect x="147.32" y="299.3" width="2.8" height="3.4"/><rect x="149.38" y="298.5" width="2.8" height="1.5"/><rect x="151.43" y="297.4" width="2.8" height="2.2"/><rect x="153.49" y="295.2" width="2.8" height="2.6"/><rect x="159.65" y="292.5" width="2.8" height="3.9"/><rect x="161.71" y="292.3" width="2.8" height="1.3"/><rect x="165.82" y="291.4" width="2.8" height="2.0"/><rect x="169.93" y="290.9" width="2.8" height="1.3"/><rect x="178.15" y="293.1" width="2.8" height="1.5"/><rect x="182.26" y="292.3" width="2.8" height="1.6"/><rect x="184.31" y="291.4" width="2.8" height="1.7"/><rect x="186.37" y="290.3" width="2.8" height="2.0"/><rect x="188.42" y="289.4" width="2.8" height="1.8"/><rect x="194.59" y="288.6" width="2.8" height="1.5"/><rect x="196.64" y="287.8" width="2.8" height="1.9"/><rect x="198.70" y="286.9" width="2.8" height="2.2"/><rect x="200.75" y="285.2" width="2.8" height="2.8"/><rect x="202.81" y="283.3" width="2.8" height="3.0"/><rect x="204.86" y="282.9" width="2.8" height="1.3"/><rect x="206.92" y="282.4" width="2.8" height="1.3"/><rect x="208.97" y="281.3" width="2.8" height="2.0"/><rect x="211.03" y="278.9" width="2.8" height="3.6"/><rect x="213.08" y="276.9" width="2.8" height="3.1"/><rect x="215.14" y="274.1" width="2.8" height="3.9"/><rect x="217.19" y="272.9" width="2.8" height="2.2"/><rect x="221.30" y="271.8" width="2.8" height="1.7"/><rect x="223.36" y="270.7" width="2.8" height="2.0"/><rect x="225.41" y="266.8" width="2.8" height="5.0"/><rect x="227.47" y="265.7" width="2.8" height="2.0"/><rect x="229.52" y="262.3" width="2.8" height="4.3"/><rect x="231.58" y="260.6" width="2.8" height="2.8"/><rect x="235.69" y="263.4" width="2.8" height="4.3"/><rect x="237.74" y="261.7" width="2.8" height="2.2"/><rect x="243.91" y="262.0" width="2.8" height="3.0"/><rect x="245.96" y="259.0" width="2.8" height="4.0"/><rect x="248.02" y="257.5" width="2.8" height="3.0"/><rect x="250.07" y="253.6" width="2.8" height="5.6"/><rect x="254.18" y="250.2" width="2.8" height="3.4"/><rect x="256.24" y="245.2" width="2.8" height="5.6"/><rect x="258.29" y="240.2" width="2.8" height="5.6"/><rect x="266.51" y="245.2" width="2.8" height="6.2"/><rect x="268.57" y="244.6" width="2.8" height="1.3"/><rect x="272.68" y="244.1" width="2.8" height="4.5"/><rect x="274.73" y="241.3" width="2.8" height="3.4"/><rect x="276.79" y="239.1" width="2.8" height="2.8"/><rect x="278.84" y="236.8" width="2.8" height="2.6"/><rect x="282.95" y="233.5" width="2.8" height="5.0"/><rect x="285.01" y="227.9" width="2.8" height="5.6"/><rect x="289.12" y="230.1" width="2.8" height="3.9"/><rect x="291.17" y="228.4" width="2.8" height="2.2"/><rect x="293.23" y="226.2" width="2.8" height="3.9"/><rect x="295.28" y="225.1" width="2.8" height="2.2"/><rect x="305.56" y="237.9" width="2.8" height="3.7"/><rect x="307.61" y="235.1" width="2.8" height="3.6"/><rect x="311.72" y="236.3" width="2.8" height="2.5"/><rect x="313.78" y="231.8" width="2.8" height="5.0"/><rect x="317.89" y="232.9" width="2.8" height="2.0"/><rect x="319.94" y="232.3" width="2.8" height="1.5"/><rect x="328.16" y="236.3" width="2.8" height="5.6"/><rect x="338.44" y="238.0" width="2.8" height="3.4"/><rect x="340.49" y="236.6" width="2.8" height="2.5"/><rect x="342.55" y="235.5" width="2.8" height="1.9"/><rect x="344.60" y="235.2" width="2.8" height="1.5"/><rect x="350.77" y="236.9" width="2.8" height="1.7"/><rect x="358.99" y="241.9" width="2.8" height="2.8"/><rect x="369.26" y="246.9" width="2.8" height="11.7"/><rect x="371.32" y="243.6" width="2.8" height="4.5"/><rect x="375.43" y="227.3" width="2.8" height="19.4"/><rect x="379.54" y="229.6" width="2.8" height="5.0"/><rect x="389.81" y="234.1" width="2.8" height="4.8"/><rect x="391.87" y="230.7" width="2.8" height="4.5"/><rect x="395.98" y="231.3" width="2.8" height="2.2"/><rect x="398.03" y="229.0" width="2.8" height="3.4"/><rect x="404.20" y="230.7" width="2.8" height="2.8"/><rect x="406.25" y="229.0" width="2.8" height="2.8"/><rect x="408.31" y="218.4" width="2.8" height="11.7"/><rect x="412.42" y="216.4" width="2.8" height="4.5"/><rect x="414.47" y="215.8" width="2.8" height="2.2"/><rect x="418.58" y="214.7" width="2.8" height="3.4"/><rect x="420.64" y="210.8" width="2.8" height="5.0"/><rect x="422.69" y="206.9" width="2.8" height="5.0"/><rect x="424.75" y="203.0" width="2.8" height="5.0"/><rect x="426.80" y="198.5" width="2.8" height="5.6"/><rect x="430.91" y="197.9" width="2.8" height="3.9"/><rect x="443.24" y="201.9" width="2.8" height="3.1"/><rect x="445.30" y="200.5" width="2.8" height="3.0"/><rect x="447.35" y="198.3" width="2.8" height="4.1"/><rect x="449.41" y="197.9" width="2.8" height="1.7"/><rect x="455.57" y="197.8" width="2.8" height="1.3"/><rect x="457.63" y="194.0" width="2.8" height="4.7"/><rect x="461.74" y="191.8" width="2.8" height="3.1"/><rect x="463.79" y="189.0" width="2.8" height="3.9"/><rect x="474.07" y="194.0" width="2.8" height="3.4"/><rect x="476.12" y="193.8" width="2.8" height="1.3"/><rect x="492.56" y="209.2" width="2.8" height="10.6"/><rect x="498.73" y="202.4" width="2.8" height="7.8"/><rect x="506.95" y="208.6" width="2.8" height="4.5"/><rect x="509.00" y="208.0" width="2.8" height="1.7"/><rect x="513.11" y="206.0" width="2.8" height="5.6"/><rect x="517.23" y="201.1" width="2.8" height="5.3"/><rect x="523.39" y="198.0" width="2.8" height="3.6"/><rect x="525.44" y="196.9" width="2.8" height="2.0"/><rect x="533.66" y="199.3" width="2.8" height="1.5"/><rect x="535.72" y="198.0" width="2.8" height="2.0"/><rect x="537.77" y="196.9" width="2.8" height="2.0"/><rect x="539.83" y="194.4" width="2.8" height="3.4"/><rect x="541.88" y="191.3" width="2.8" height="3.9"/><rect x="546.00" y="190.7" width="2.8" height="1.7"/><rect x="548.05" y="181.9" width="2.8" height="9.5"/><rect x="550.10" y="178.6" width="2.8" height="4.5"/><rect x="552.16" y="177.2" width="2.8" height="1.9"/><rect x="556.27" y="177.5" width="2.8" height="1.3"/><rect x="562.43" y="178.0" width="2.8" height="2.8"/><rect x="564.49" y="174.3" width="2.8" height="4.3"/><rect x="566.54" y="173.8" width="2.8" height="1.3"/><rect x="574.76" y="178.0" width="2.8" height="3.9"/><rect x="576.82" y="176.1" width="2.8" height="2.5"/><rect x="582.99" y="173.1" width="2.8" height="5.4"/><rect x="587.09" y="169.2" width="2.8" height="4.5"/><rect x="589.15" y="166.4" width="2.8" height="3.4"/><rect x="591.20" y="163.0" width="2.8" height="3.9"/><rect x="593.26" y="160.8" width="2.8" height="2.8"/><rect x="595.31" y="158.6" width="2.8" height="4.5"/><rect x="601.48" y="161.9" width="2.8" height="2.8"/><rect x="603.53" y="158.6" width="2.8" height="4.5"/><rect x="613.81" y="168.1" width="2.8" height="8.4"/><rect x="615.86" y="167.0" width="2.8" height="1.9"/><rect x="617.92" y="160.2" width="2.8" height="7.8"/><rect x="619.98" y="154.7" width="2.8" height="6.2"/><rect x="624.08" y="154.1" width="2.8" height="2.5"/><rect x="626.14" y="151.9" width="2.8" height="4.5"/><rect x="628.19" y="151.3" width="2.8" height="1.7"/><rect x="636.41" y="150.2" width="2.8" height="3.4"/><rect x="638.47" y="146.8" width="2.8" height="6.2"/><rect x="640.52" y="141.8" width="2.8" height="6.7"/><rect x="642.58" y="139.0" width="2.8" height="3.9"/><rect x="644.63" y="138.0" width="2.8" height="1.6"/><rect x="650.80" y="131.2" width="2.8" height="7.8"/><rect x="652.85" y="130.0" width="2.8" height="2.6"/><rect x="654.91" y="127.8" width="2.8" height="3.9"/><rect x="656.96" y="126.1" width="2.8" height="3.4"/><rect x="659.02" y="125.3" width="2.8" height="1.9"/><rect x="661.07" y="111.9" width="2.8" height="14.5"/><rect x="663.13" y="96.8" width="2.8" height="18.5"/><rect x="671.35" y="99.0" width="2.8" height="7.8"/><rect x="673.40" y="95.7" width="2.8" height="4.5"/><rect x="677.51" y="97.9" width="2.8" height="2.8"/><rect x="679.57" y="96.2" width="2.8" height="4.5"/><rect x="681.62" y="88.1" width="2.8" height="8.7"/><rect x="696.01" y="106.9" width="2.8" height="6.2"/><rect x="702.17" y="104.1" width="2.8" height="8.4"/><rect x="712.45" y="114.1" width="2.8" height="5.6"/><rect x="716.56" y="109.0" width="2.8" height="7.8"/><rect x="718.61" y="106.8" width="2.8" height="2.8"/><rect x="720.67" y="106.8" width="2.8" height="1.8"/><rect x="722.73" y="101.2" width="2.8" height="6.7"/><rect x="724.78" y="98.4" width="2.8" height="3.4"/><rect x="733.00" y="108.5" width="2.8" height="2.2"/><rect x="737.11" y="112.4" width="2.8" height="5.6"/><rect x="739.16" y="111.8" width="2.8" height="2.2"/><rect x="749.44" y="127.5" width="2.8" height="2.2"/><rect x="751.50" y="123.6" width="2.8" height="5.6"/><rect x="753.55" y="120.2" width="2.8" height="7.8"/><rect x="759.72" y="130.3" width="2.8" height="2.8"/><rect x="761.77" y="128.0" width="2.8" height="5.0"/><rect x="767.93" y="128.0" width="2.8" height="2.2"/><rect x="769.99" y="127.3" width="2.8" height="2.8"/><rect x="782.32" y="142.9" width="2.8" height="4.5"/><rect x="788.49" y="156.9" width="2.8" height="7.8"/><rect x="792.59" y="152.4" width="2.8" height="5.6"/><rect x="794.65" y="148.5" width="2.8" height="3.9"/><rect x="800.81" y="146.3" width="2.8" height="6.7"/><rect x="804.92" y="141.3" width="2.8" height="8.1"/><rect x="806.98" y="137.3" width="2.8" height="4.5"/><rect x="809.03" y="136.2" width="2.8" height="2.2"/><rect x="811.09" y="130.1" width="2.8" height="6.7"/><rect x="815.20" y="130.6" width="2.8" height="5.0"/><rect x="817.25" y="129.0" width="2.8" height="2.2"/><rect x="823.42" y="135.7" width="2.8" height="3.9"/><rect x="829.58" y="135.1" width="2.8" height="5.6"/><rect x="831.64" y="133.4" width="2.8" height="2.2"/><rect x="835.75" y="131.2" width="2.8" height="3.9"/><rect x="837.80" y="130.1" width="2.8" height="2.2"/><rect x="839.86" y="128.4" width="2.8" height="2.8"/><rect x="841.91" y="127.1" width="2.8" height="3.0"/><rect x="856.30" y="141.3" width="2.8" height="6.7"/><rect x="864.52" y="150.8" width="2.8" height="2.2"/><rect x="866.57" y="150.8" width="2.8" height="1.7"/><rect x="870.68" y="151.9" width="2.8" height="3.9"/><rect x="872.74" y="148.6" width="2.8" height="4.5"/><rect x="874.79" y="145.8" width="2.8" height="3.9"/><rect x="880.96" y="146.7" width="2.8" height="1.5"/><rect x="891.24" y="153.6" width="2.8" height="3.4"/><rect x="897.40" y="163.1" width="2.8" height="2.8"/></g><g fill="#e5465a"><rect x="3.47" y="313.0" width="2.8" height="1.3"/><rect x="7.58" y="311.2" width="2.8" height="1.3"/><rect x="9.64" y="311.2" width="2.8" height="1.5"/><rect x="11.69" y="312.1" width="2.8" height="2.7"/><rect x="21.97" y="311.2" width="2.8" height="1.4"/><rect x="36.35" y="303.1" width="2.8" height="1.5"/><rect x="44.57" y="301.0" width="2.8" height="6.0"/><rect x="48.68" y="304.0" width="2.8" height="1.4"/><rect x="50.74" y="304.3" width="2.8" height="1.3"/><rect x="52.79" y="304.5" width="2.8" height="1.3"/><rect x="65.12" y="300.8" width="2.8" height="1.3"/><rect x="71.29" y="296.0" width="2.8" height="1.3"/><rect x="77.45" y="293.1" width="2.8" height="3.0"/><rect x="83.62" y="291.5" width="2.8" height="1.3"/><rect x="91.84" y="287.0" width="2.8" height="1.9"/><rect x="98.00" y="287.0" width="2.8" height="3.4"/><rect x="100.06" y="289.9" width="2.8" height="6.0"/><rect x="104.17" y="291.8" width="2.8" height="7.1"/><rect x="116.50" y="288.1" width="2.8" height="6.7"/><rect x="118.55" y="294.0" width="2.8" height="6.7"/><rect x="120.61" y="300.0" width="2.8" height="8.6"/><rect x="128.83" y="297.3" width="2.8" height="6.5"/><rect x="130.88" y="303.0" width="2.8" height="1.9"/><rect x="132.94" y="303.7" width="2.8" height="7.1"/><rect x="143.21" y="301.8" width="2.8" height="1.3"/><rect x="145.27" y="301.8" width="2.8" height="1.3"/><rect x="155.54" y="295.3" width="2.8" height="1.3"/><rect x="157.60" y="295.6" width="2.8" height="1.3"/><rect x="163.76" y="292.3" width="2.8" height="1.3"/><rect x="167.87" y="291.1" width="2.8" height="1.3"/><rect x="171.98" y="290.8" width="2.8" height="1.5"/><rect x="174.04" y="291.4" width="2.8" height="2.5"/><rect x="176.09" y="293.1" width="2.8" height="1.7"/><rect x="180.20" y="293.0" width="2.8" height="1.3"/><rect x="190.48" y="288.8" width="2.8" height="1.3"/><rect x="192.53" y="289.1" width="2.8" height="1.3"/><rect x="219.25" y="272.6" width="2.8" height="1.3"/><rect x="233.63" y="261.0" width="2.8" height="6.9"/><rect x="239.80" y="263.0" width="2.8" height="2.5"/><rect x="241.85" y="264.0" width="2.8" height="1.8"/><rect x="252.13" y="253.0" width="2.8" height="1.3"/><rect x="260.35" y="240.2" width="2.8" height="3.9"/><rect x="262.40" y="243.0" width="2.8" height="2.8"/><rect x="264.46" y="245.0" width="2.8" height="6.9"/><rect x="270.62" y="245.0" width="2.8" height="3.6"/><rect x="280.90" y="237.2" width="2.8" height="1.6"/><rect x="287.06" y="227.9" width="2.8" height="6.2"/><rect x="297.34" y="225.1" width="2.8" height="9.8"/><rect x="299.39" y="233.5" width="2.8" height="1.7"/><rect x="301.45" y="233.5" width="2.8" height="7.5"/><rect x="303.50" y="240.2" width="2.8" height="1.7"/><rect x="309.67" y="235.1" width="2.8" height="3.9"/><rect x="315.83" y="232.0" width="2.8" height="2.9"/><rect x="322.00" y="232.9" width="2.8" height="3.9"/><rect x="324.05" y="235.7" width="2.8" height="3.4"/><rect x="326.11" y="237.9" width="2.8" height="3.9"/><rect x="330.22" y="236.0" width="2.8" height="2.0"/><rect x="332.27" y="236.9" width="2.8" height="2.5"/><rect x="334.33" y="238.2" width="2.8" height="2.6"/><rect x="336.38" y="239.3" width="2.8" height="2.2"/><rect x="346.66" y="235.1" width="2.8" height="1.3"/><rect x="348.71" y="235.2" width="2.8" height="3.4"/><rect x="352.82" y="236.6" width="2.8" height="1.9"/><rect x="354.88" y="238.0" width="2.8" height="7.3"/><rect x="356.93" y="243.0" width="2.8" height="1.9"/><rect x="361.04" y="241.9" width="2.8" height="1.7"/><rect x="363.10" y="243.0" width="2.8" height="5.0"/><rect x="365.15" y="247.5" width="2.8" height="9.0"/><rect x="367.21" y="255.9" width="2.8" height="2.8"/><rect x="373.37" y="244.1" width="2.8" height="2.6"/><rect x="377.48" y="227.9" width="2.8" height="6.7"/><rect x="381.59" y="229.9" width="2.8" height="1.6"/><rect x="383.65" y="230.6" width="2.8" height="1.3"/><rect x="385.70" y="231.0" width="2.8" height="6.9"/><rect x="387.76" y="236.9" width="2.8" height="2.5"/><rect x="393.92" y="231.0" width="2.8" height="2.5"/><rect x="400.09" y="229.0" width="2.8" height="3.1"/><rect x="402.14" y="231.8" width="2.8" height="1.7"/><rect x="410.36" y="219.8" width="2.8" height="1.3"/><rect x="416.53" y="215.8" width="2.8" height="2.2"/><rect x="428.86" y="198.7" width="2.8" height="3.1"/><rect x="432.97" y="197.9" width="2.8" height="1.9"/><rect x="435.02" y="198.7" width="2.8" height="4.3"/><rect x="437.08" y="201.3" width="2.8" height="1.7"/><rect x="439.13" y="201.3" width="2.8" height="2.6"/><rect x="441.19" y="203.0" width="2.8" height="1.7"/><rect x="451.46" y="197.9" width="2.8" height="1.3"/><rect x="453.52" y="197.7" width="2.8" height="1.3"/><rect x="459.68" y="194.0" width="2.8" height="1.3"/><rect x="465.85" y="189.0" width="2.8" height="4.5"/><rect x="467.90" y="192.9" width="2.8" height="2.2"/><rect x="469.96" y="194.2" width="2.8" height="2.9"/><rect x="472.01" y="195.7" width="2.8" height="2.2"/><rect x="478.18" y="194.0" width="2.8" height="4.7"/><rect x="480.23" y="196.9" width="2.8" height="2.5"/><rect x="482.29" y="198.5" width="2.8" height="1.9"/><rect x="484.34" y="199.3" width="2.8" height="1.5"/><rect x="486.40" y="199.7" width="2.8" height="2.2"/><rect x="488.45" y="201.3" width="2.8" height="6.7"/><rect x="490.51" y="207.5" width="2.8" height="12.3"/><rect x="494.62" y="208.8" width="2.8" height="1.3"/><rect x="496.67" y="209.2" width="2.8" height="1.3"/><rect x="500.78" y="202.4" width="2.8" height="4.5"/><rect x="502.84" y="205.8" width="2.8" height="2.2"/><rect x="504.89" y="207.5" width="2.8" height="5.3"/><rect x="511.06" y="208.3" width="2.8" height="3.4"/><rect x="515.17" y="205.7" width="2.8" height="1.3"/><rect x="519.28" y="200.7" width="2.8" height="1.3"/><rect x="521.33" y="201.0" width="2.8" height="1.3"/><rect x="527.50" y="196.8" width="2.8" height="1.3"/><rect x="529.55" y="197.4" width="2.8" height="2.2"/><rect x="531.61" y="199.1" width="2.8" height="1.7"/><rect x="543.94" y="191.0" width="2.8" height="1.3"/><rect x="554.22" y="177.2" width="2.8" height="1.3"/><rect x="558.32" y="178.0" width="2.8" height="2.6"/><rect x="560.38" y="179.7" width="2.8" height="1.3"/><rect x="568.60" y="174.1" width="2.8" height="1.7"/><rect x="570.65" y="175.0" width="2.8" height="1.6"/><rect x="572.71" y="176.1" width="2.8" height="5.8"/><rect x="578.87" y="175.9" width="2.8" height="1.7"/><rect x="580.93" y="176.7" width="2.8" height="1.8"/><rect x="585.04" y="172.6" width="2.8" height="1.5"/><rect x="597.37" y="158.6" width="2.8" height="1.7"/><rect x="599.42" y="159.1" width="2.8" height="5.6"/><rect x="605.59" y="159.1" width="2.8" height="3.4"/><rect x="607.64" y="161.9" width="2.8" height="5.6"/><rect x="609.70" y="167.0" width="2.8" height="5.0"/><rect x="611.75" y="171.4" width="2.8" height="5.6"/><rect x="622.03" y="155.0" width="2.8" height="1.9"/><rect x="630.25" y="151.3" width="2.8" height="2.6"/><rect x="632.30" y="151.6" width="2.8" height="1.6"/><rect x="634.36" y="151.3" width="2.8" height="2.6"/><rect x="646.69" y="137.9" width="2.8" height="1.3"/><rect x="648.75" y="137.9" width="2.8" height="1.3"/><rect x="665.18" y="96.8" width="2.8" height="5.0"/><rect x="667.24" y="101.3" width="2.8" height="5.6"/><rect x="669.29" y="104.1" width="2.8" height="2.8"/><rect x="675.46" y="96.2" width="2.8" height="4.5"/><rect x="683.68" y="87.8" width="2.8" height="1.8"/><rect x="685.74" y="89.0" width="2.8" height="2.0"/><rect x="687.79" y="90.1" width="2.8" height="5.6"/><rect x="689.84" y="95.1" width="2.8" height="6.7"/><rect x="691.90" y="100.7" width="2.8" height="6.2"/><rect x="693.95" y="108.5" width="2.8" height="4.5"/><rect x="698.06" y="106.9" width="2.8" height="5.6"/><rect x="700.12" y="110.2" width="2.8" height="2.8"/><rect x="704.23" y="104.1" width="2.8" height="2.8"/><rect x="706.28" y="106.3" width="2.8" height="5.6"/><rect x="708.34" y="109.7" width="2.8" height="2.8"/><rect x="710.39" y="110.1" width="2.8" height="9.5"/><rect x="714.50" y="114.1" width="2.8" height="2.8"/><rect x="726.83" y="98.1" width="2.8" height="4.3"/><rect x="728.89" y="101.7" width="2.8" height="6.7"/><rect x="730.94" y="107.9" width="2.8" height="2.8"/><rect x="735.05" y="107.9" width="2.8" height="10.1"/><rect x="741.22" y="111.8" width="2.8" height="3.9"/><rect x="743.27" y="115.2" width="2.8" height="1.9"/><rect x="745.33" y="115.2" width="2.8" height="12.9"/><rect x="747.38" y="127.5" width="2.8" height="2.2"/><rect x="755.60" y="120.2" width="2.8" height="7.8"/><rect x="757.66" y="127.5" width="2.8" height="5.6"/><rect x="763.82" y="128.0" width="2.8" height="2.8"/><rect x="765.88" y="128.6" width="2.8" height="1.7"/><rect x="772.04" y="127.3" width="2.8" height="3.4"/><rect x="774.10" y="130.1" width="2.8" height="7.8"/><rect x="776.15" y="136.8" width="2.8" height="1.3"/><rect x="778.21" y="136.8" width="2.8" height="9.0"/><rect x="780.26" y="145.2" width="2.8" height="2.2"/><rect x="784.38" y="142.9" width="2.8" height="9.5"/><rect x="786.43" y="151.9" width="2.8" height="12.9"/><rect x="790.54" y="156.9" width="2.8" height="1.7"/><rect x="796.70" y="148.0" width="2.8" height="1.7"/><rect x="798.76" y="149.1" width="2.8" height="4.5"/><rect x="802.87" y="146.3" width="2.8" height="3.4"/><rect x="813.14" y="130.1" width="2.8" height="5.6"/><rect x="819.31" y="129.2" width="2.8" height="5.4"/><rect x="821.37" y="134.0" width="2.8" height="5.6"/><rect x="825.48" y="135.7" width="2.8" height="5.0"/><rect x="827.53" y="139.6" width="2.8" height="1.7"/><rect x="833.69" y="133.2" width="2.8" height="2.5"/><rect x="843.97" y="126.7" width="2.8" height="1.7"/><rect x="846.02" y="127.9" width="2.8" height="5.0"/><rect x="848.08" y="131.8" width="2.8" height="7.3"/><rect x="850.13" y="137.9" width="2.8" height="6.2"/><rect x="852.19" y="143.0" width="2.8" height="2.2"/><rect x="854.25" y="143.0" width="2.8" height="5.0"/><rect x="858.36" y="141.3" width="2.8" height="3.9"/><rect x="860.41" y="144.4" width="2.8" height="1.6"/><rect x="862.47" y="144.1" width="2.8" height="9.0"/><rect x="868.63" y="151.0" width="2.8" height="4.8"/><rect x="876.85" y="145.8" width="2.8" height="1.7"/><rect x="878.90" y="146.3" width="2.8" height="1.7"/><rect x="883.01" y="145.8" width="2.8" height="3.9"/><rect x="885.07" y="148.6" width="2.8" height="2.8"/><rect x="887.12" y="150.2" width="2.8" height="3.4"/><rect x="889.18" y="152.5" width="2.8" height="4.5"/><rect x="893.29" y="153.9" width="2.8" height="9.7"/><rect x="895.35" y="163.1" width="2.8" height="2.8"/></g></g><path d="M172.6 249.14999999999998H185.6A13.5 13.5 0 0 1 199.1 262.65V265.15A13.5 13.5 0 0 1 185.6 278.65H192.4L194.1 287.5Q187.4 284.65 182.4 278.65H172.6A13.5 13.5 0 0 1 159.1 265.15V262.65A13.5 13.5 0 0 1 172.6 249.14999999999998Z" fill="#ffffe0" fill-opacity="0.93" stroke="#858585" stroke-width="2" stroke-linejoin="round"/><text x="179.1" y="268.7" text-anchor="middle" font-size="13" font-weight="bold" fill="#0000f0">A</text><path d="M748.5 74.15H761.5A13.5 13.5 0 0 1 775.0 87.65V90.15A13.5 13.5 0 0 1 761.5 103.65H768.3L770.1 112.8Q763.3 109.65 758.3 103.65H748.5A13.5 13.5 0 0 1 735.0 90.15V87.65A13.5 13.5 0 0 1 748.5 74.15Z" fill="#ffffe0" fill-opacity="0.93" stroke="#858585" stroke-width="2" stroke-linejoin="round"/><text x="755" y="93.7" text-anchor="middle" font-size="13" font-weight="bold" fill="#0000f0">B</text><line x1="3" y1="163.5" x2="932" y2="163.5" stroke="#4caf7a" stroke-width="1" stroke-dasharray="1.9 1.46"/><text x="726" y="375.2" font-size="19.2" fill="#0808f2" stroke="#0808f2" stroke-width="0.12" textLength="203.5" lengthAdjust="spacingAndGlyphs">InvestingHaven.com</text><text x="11" y="23.8" font-size="12" font-weight="bold" fill="#4a4a4a" textLength="134" lengthAdjust="spacingAndGlyphs">BTC/USD, D, COINBASE</text><text x="11" y="40.8" font-size="12.5" fill="#555" textLength="43" lengthAdjust="spacingAndGlyphs">Vol (20)</text><path d="M932.5 3V487M3 455.5H989M3 487.5H933" stroke="#555555" stroke-width="1" fill="none" shape-rendering="crispEdges"/><rect x="933" y="7" width="3" height="1" fill="#555555"/><text x="939.3" y="11.6" font-size="11" fill="#555">60000.00</text><rect x="933" y="36" width="3" height="1" fill="#555555"/><text x="939.3" y="40.6" font-size="11" fill="#555">40000.00</text><rect x="933" y="64" width="3" height="1" fill="#555555"/><text x="939.3" y="68.6" font-size="11" fill="#555">27500.00</text><rect x="933" y="97" width="3" height="1" fill="#555555"/><text x="939.3" y="101.6" font-size="11" fill="#555">17500.00</text><rect x="933" y="127" width="3" height="1" fill="#555555"/><text x="939.3" y="131.6" font-size="11" fill="#555">11500.00</text><rect x="933" y="158" width="3" height="1" fill="#555555"/><text x="939.3" y="162.6" font-size="11" fill="#555">7500.00</text><rect x="933" y="188" width="3" height="1" fill="#555555"/><text x="939.3" y="192.6" font-size="11" fill="#555">5000.00</text><rect x="933" y="216" width="3" height="1" fill="#555555"/><text x="939.3" y="220.6" font-size="11" fill="#555">3400.00</text><rect x="933" y="249" width="3" height="1" fill="#555555"/><text x="939.3" y="253.6" font-size="11" fill="#555">2150.00</text><rect x="933" y="283" width="3" height="1" fill="#555555"/><text x="939.3" y="287.6" font-size="11" fill="#555">1350.00</text><rect x="933" y="317" width="3" height="1" fill="#555555"/><text x="939.3" y="321.6" font-size="11" fill="#555">850.00</text><rect x="933" y="349" width="3" height="1" fill="#555555"/><text x="939.3" y="353.6" font-size="11" fill="#555">550.00</text><rect x="933" y="382" width="3" height="1" fill="#555555"/><text x="939.3" y="386.6" font-size="11" fill="#555">350.00</text><rect x="933" y="412" width="3" height="1" fill="#555555"/><text x="939.3" y="416.6" font-size="11" fill="#555">230.00</text><rect x="933" y="444" width="3" height="1" fill="#555555"/><text x="939.3" y="448.6" font-size="11" fill="#555">150.00</text><rect x="932" y="156" width="51" height="16" fill="#53b987"/><rect x="932" y="163" width="3" height="1" fill="#fff"/><text x="939.5" y="167.8" font-size="11" font-weight="bold" fill="#fff">7085.99</text><rect x="3" y="467.5" width="928" height="15" fill="#f3e6fc"/><path d="M3 467.5H931M3 482.5H931" stroke="#b9b4c0" stroke-width="1" stroke-dasharray="6 5" fill="none"/><text x="11" y="477" font-size="12.5" fill="#666" textLength="78" lengthAdjust="spacingAndGlyphs">RSI (14, close)</text><polyline fill="none" stroke="#982bb0" stroke-width="1.15" stroke-linejoin="round" points="3.7,474.5 7.8,472.3 12.5,474.5 18.7,472.3 25.0,470.1 31.0,468.0 37.4,466.0 46.8,467.6 49.9,471.3 57.7,470.7 65.5,468.2 71.7,466.0 78.0,464.5 84.2,465.1 90.5,462.9 96.7,465.1 101.4,473.8 104.5,472.3 106.0,477.0 109.2,472.3 113.8,470.7 121.6,480.7 127.9,476.3 134.1,480.1 140.4,476.3 146.6,474.5 152.8,473.2 159.0,470.7 165.3,471.3 171.6,469.2 176.2,472.3 184.0,470.1 193.4,467.6 202.7,464.5 212.1,462.0 218.3,459.8 224.6,458.9 231.4,457.6 235.5,466.0 240.2,464.5 244.9,467.0 251.1,463.9 258.9,460.7 265.1,469.2 269.8,467.6 274.5,468.2 280.7,466.0 285.4,463.9 288.5,467.0 294.8,466.0 299.4,472.3 304.1,475.4 308.8,473.2 315.6,471.3 321.8,473.2 328.0,475.4 334.3,474.5 339.0,476.3 346.8,473.8 353.0,475.4 359.3,478.5 364.0,480.1 368.6,483.2 373.3,475.4 376.4,469.2 379.5,472.3 384.2,471.3 388.9,473.8 393.6,471.3 398.3,473.2 402.9,472.3 407.6,469.2 412.3,467.0 418.5,466.0 423.2,464.5 427.9,462.9 432.6,466.0 437.2,467.0 443.5,470.1 449.7,467.6 456.0,467.0 460.6,465.1 465.3,463.9 468.4,468.2 473.1,471.3 477.8,472.3 482.5,474.5 487.2,478.5 491.2,483.2 494.0,478.5 498.0,475.4 502.7,476.3 507.4,478.5 512.1,475.4 518.3,473.2 524.6,471.3 530.8,472.3 537.1,471.3 543.3,468.2 549.5,464.5 554.2,462.9 558.9,466.0 565.1,464.5 571.4,467.0 574.5,470.7 580.7,469.2 587.0,466.0 593.2,462.9 597.9,462.9 601.0,467.6 604.7,465.1 609.4,471.3 614.0,476.3 618.7,470.7 623.4,468.2 629.6,467.6 635.9,469.2 642.1,465.1 649.9,463.9 656.1,461.4 660.8,460.7 664.9,458.2 669.2,464.5 673.3,462.9 677.4,466.0 683.6,463.9 688.9,467.6 693.6,472.3 697.3,475.4 702.9,473.8 707.6,475.4 712.3,477.0 718.5,474.5 726.3,470.7 731.0,474.5 735.7,476.3 740.4,475.4 745.0,478.5 749.1,480.7 754.4,477.6 759.1,479.4 765.3,478.2 771.6,478.2 777.8,480.7 782.5,481.6 787.1,485.6 791.8,480.7 798.1,478.5 804.3,476.3 809.0,473.8 812.7,471.3 816.8,473.2 821.5,473.2 826.1,475.4 830.8,474.5 835.5,473.2 840.2,471.3 844.9,471.3 849.5,476.3 854.2,479.4 857.3,476.3 862.0,479.4 868.2,480.1 872.9,477.6 877.6,475.4 882.3,476.3 887.0,477.6 891.6,480.1 896.3,482.0 899.4,481.3"/><rect x="30" y="488" width="1" height="3" fill="#555555"/><text x="30.5" y="501.9" font-size="11" text-anchor="middle" fill="#555">Feb</text><rect x="151" y="488" width="1" height="3" fill="#555555"/><text x="151.5" y="501.9" font-size="11" text-anchor="middle" fill="#555">Apr</text><rect x="277" y="488" width="1" height="3" fill="#555555"/><text x="277.5" y="501.9" font-size="11" text-anchor="middle" fill="#555">Jun</text><rect x="402" y="488" width="1" height="3" fill="#555555"/><text x="402.5" y="501.9" font-size="11" text-anchor="middle" fill="#555">Aug</text><rect x="527" y="488" width="1" height="3" fill="#555555"/><text x="527.5" y="501.9" font-size="11" text-anchor="middle" fill="#555">Oct</text><rect x="616" y="488" width="1" height="3" fill="#555555"/><text x="616.5" y="501.9" font-size="11" text-anchor="middle" fill="#555">13</text><rect x="716" y="488" width="1" height="3" fill="#555555"/><text x="716.5" y="501.9" font-size="11" text-anchor="middle" fill="#555" font-weight="bold">2018</text><rect x="838" y="488" width="1" height="3" fill="#555555"/><text x="838.5" y="501.9" font-size="11" text-anchor="middle" fill="#555">Mar</text><text x="2.5" y="529.7" font-size="13" fill="#222" textLength="72" lengthAdjust="spacingAndGlyphs">Created with</text><g transform="translate(83.8,516.6)"><path d="M3.2 14.3C1.2 14.3 0 12.4 0 10C0 7.6 1.8 5.7 4.2 5.5C4.8 2.3 7.5 0 10.7 0C13.2 0 15.3 1.2 16.4 3.0L19.9 3.9C22.5 5.3 24 7.9 24 10.6C24 12.8 22.8 14.3 21.2 14.3Z" fill="#56bde6"/><path d="M0.6 12.3L8.7 5.2L14.1 12.9L21.8 4.4" fill="none" stroke="#f1f5f8" stroke-width="1.1" stroke-linejoin="miter"/></g><text x="114.5" y="529.7" font-size="13" fill="#3a9fd8" textLength="70" lengthAdjust="spacingAndGlyphs">TradingView</text></svg></body></html>
